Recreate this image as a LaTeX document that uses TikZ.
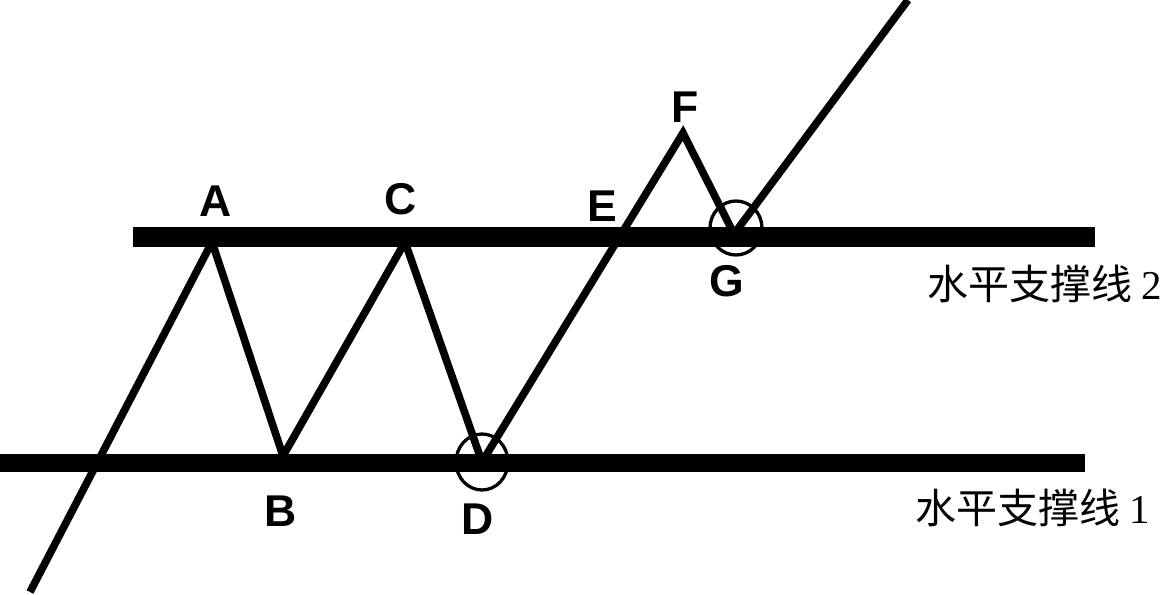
\documentclass[tikz,border=0pt]{standalone}
\usepackage{fontspec}
\setmainfont{Liberation Sans}
\newfontfamily\cjk{Noto Sans CJK SC}
\newfontfamily\digitfont{Liberation Serif}
\tikzset{
  support/.style={line width=16.5pt},
  price/.style={line width=6.5pt, line join=miter},
  ring/.style={line width=2.8pt},
  ptlabel/.style={font=\fontsize{38}{42}\selectfont\bfseries, inner sep=0pt},
  linelabel/.style={font=\fontsize{35}{40}\selectfont, inner sep=0pt}
}
\begin{document}
\begin{tikzpicture}[x=0.03cm, y=-0.03cm]
        \useasboundingbox (0,0) rectangle (1162,595);

        % Support lines
        \coordinate (s2l) at (133,237);
        \coordinate (s2r) at (1095,237);
        \coordinate (s1l) at (0,463);
        \coordinate (s1r) at (1085,463);
        \draw[support] (s2l) -- (s2r);
        \draw[support, line width=15pt] (s1l) -- (s1r);

        % Price path
        \coordinate (start) at (30,592);
        \coordinate (pA) at (212,242);
        \coordinate (pB) at (283,456);
        \coordinate (pC) at (405,242);
        \coordinate (pD) at (482,462);
        \coordinate (pF) at (683,133);
        \coordinate (pG) at (734,234);
        \coordinate (stop) at (908,0);
        \draw[price] (start) -- (pA) -- (pB) -- (pC) -- (pD) -- (pF) -- (pG) -- (stop);

        % Circles at D and G
        \draw[ring] (482,462) ellipse (26 and 28);
        \draw[ring] (736,228) ellipse (26 and 27);

        % Point labels
        \node[ptlabel] (lA) at (216,201) {A};
        \node[ptlabel] (lB) at (281,511) {B};
        \node[ptlabel] (lC) at (401,199) {C};
        \node[ptlabel] (lD) at (478,519) {D};
        \node[ptlabel] (lE) at (602,206) {E};
        \node[ptlabel] (lF) at (685,107) {F};
        \node[ptlabel] (lG) at (727,281) {G};

        % Line names
        \node[linelabel, anchor=east] (n2) at (1162,284) {\cjk 水平支撑线\ \digitfont 2};
        \node[linelabel, anchor=east] (n1) at (1150,508) {\cjk 水平支撑线\ \digitfont 1};
    \end{tikzpicture}
\end{document}
